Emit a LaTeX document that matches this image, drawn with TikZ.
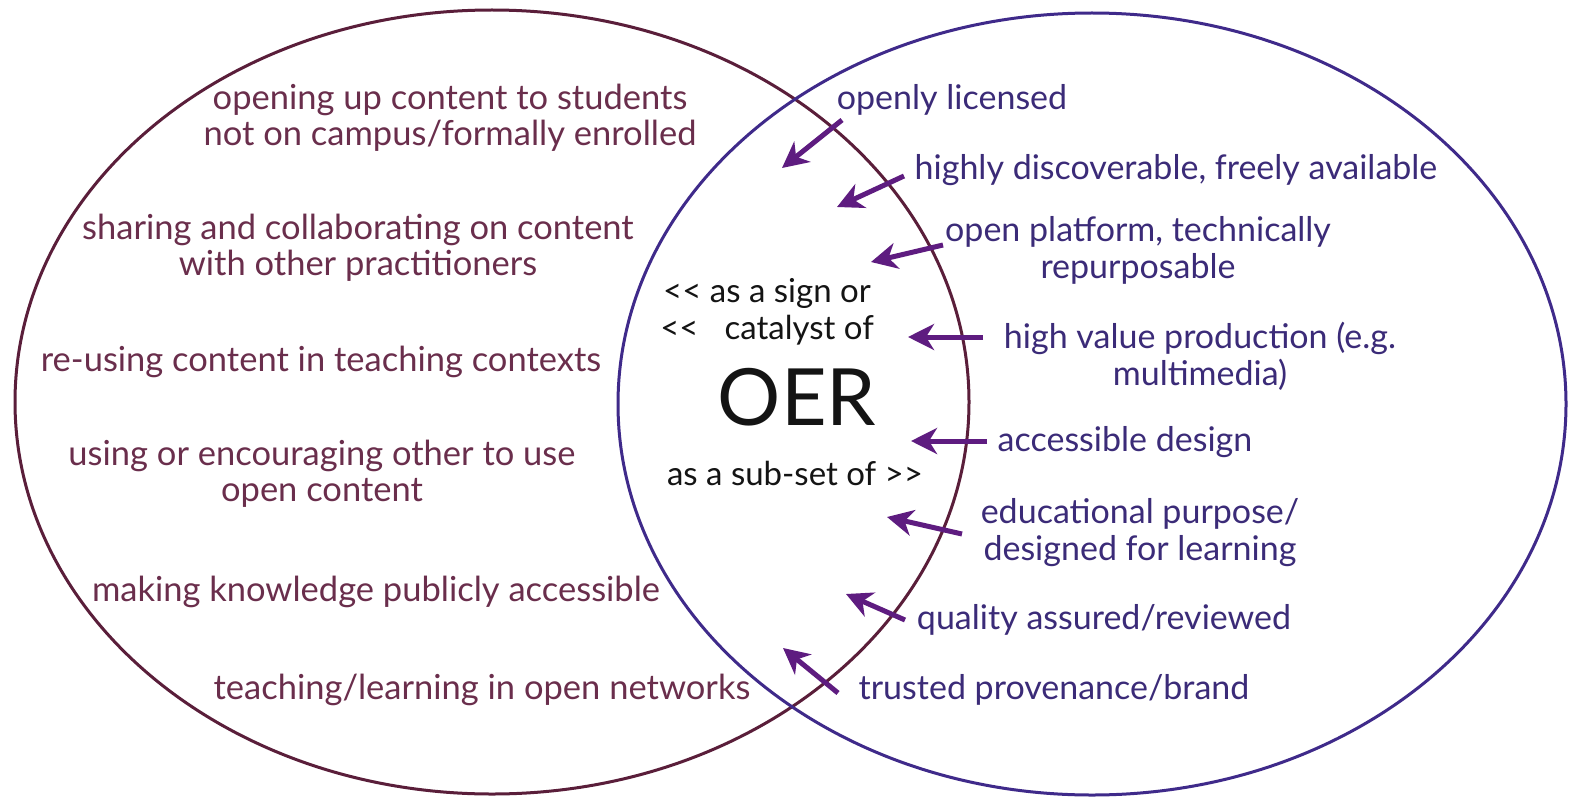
\documentclass[tikz,border=0pt]{standalone}
\usepackage{fontspec}
\setmainfont{Lato}
\usetikzlibrary{arrows.meta}
\definecolor{lcol}{HTML}{5A1E3A}
\definecolor{rcol}{HTML}{3F2A8A}
\definecolor{ltext}{HTML}{6A2E4C}
\definecolor{rtext}{HTML}{3B2B78}
\definecolor{arr}{HTML}{5E1C80}
\definecolor{ctext}{HTML}{141414}
\begin{document}
\begin{tikzpicture}[x=1pt,y=-1pt,
  ltxt/.style={text=ltext,font=\fontsize{34.5}{36}\selectfont,align=center,inner sep=0pt},
  rtxt/.style={text=rtext,font=\fontsize{34}{37}\selectfont,align=center,inner sep=0pt},
  ctxt/.style={text=ctext,font=\fontsize{33}{36}\selectfont,inner sep=0pt},
  ring/.style={line width=3pt},
  arrowline/.style={draw=arr,line width=5pt,-{Stealth[length=26pt,width=26pt,inset=8pt]}}]
\useasboundingbox[fill=white] (0,0) rectangle (1570,797);
% circles
\draw[ring,lcol] (492,402) ellipse [x radius=477,y radius=392];
\draw[ring,rcol] (1092,404) ellipse [x radius=474,y radius=391];
% left texts
\node[ltxt] (l1) at (450,118) {opening up content to students\\not on campus/formally enrolled};
\node[ltxt] (l2) at (358,248) {sharing and collaborating on content\\with other practitioners};
\node[ltxt] (l3) at (321,362) {re-using content in teaching contexts};
\node[ltxt] (l4) at (322,474) {using or encouraging other to use\\open content};
\node[ltxt] (l5) at (376,592) {making knowledge publicly accessible};
\node[ltxt] (l6) at (482,690) {teaching/learning in open networks};
% right texts
\node[rtxt] (r1) at (952,100) {openly licensed};
\node[rtxt] (r2) at (1176,170) {highly discoverable, freely available};
\node[rtxt] (r3) at (1138,250) {open platform, technically\\repurposable};
\node[rtxt] (r4) at (1200,356) {high value production (e.g.\\multimedia)};
\node[rtxt] (r5) at (1125,442) {accessible design};
\node[rtxt] (r6) at (1140,533) {educational purpose/\\designed for learning};
\node[rtxt] (r7) at (1104,620) {quality assured/reviewed};
\node[rtxt] (r8) at (1054,690) {trusted provenance/brand};
% centre texts
\node[ctxt] (c1) at (767,293) {<\kern0pt< as a sign or};
\node[ctxt] (c2) at (767,330) {<\kern0pt<\hspace{26pt}catalyst of};
\node[text=ctext,font=\fontsize{79}{82}\selectfont,inner sep=0pt] (oer) at (797,397) {OER};
\node[ctxt] (c4) at (795,473) {as a sub-set of >\kern0pt>};
% arrows
\coordinate (t1) at (842,120); \coordinate (h1) at (782,168);
\coordinate (t2) at (904,176); \coordinate (h2) at (837,207);
\coordinate (t3) at (943,245); \coordinate (h3) at (871,262);
\coordinate (t4) at (983,337); \coordinate (h4) at (908,337);
\coordinate (t5) at (987,441); \coordinate (h5) at (911,441);
\coordinate (t6) at (962,534); \coordinate (h6) at (887,517);
\coordinate (t7) at (905,620); \coordinate (h7) at (846,594);
\coordinate (t8) at (838,693); \coordinate (h8) at (783,648);
\foreach \i in {1,...,8} {\draw[arrowline] (t\i) -- (h\i);}
\end{tikzpicture}
\end{document}
